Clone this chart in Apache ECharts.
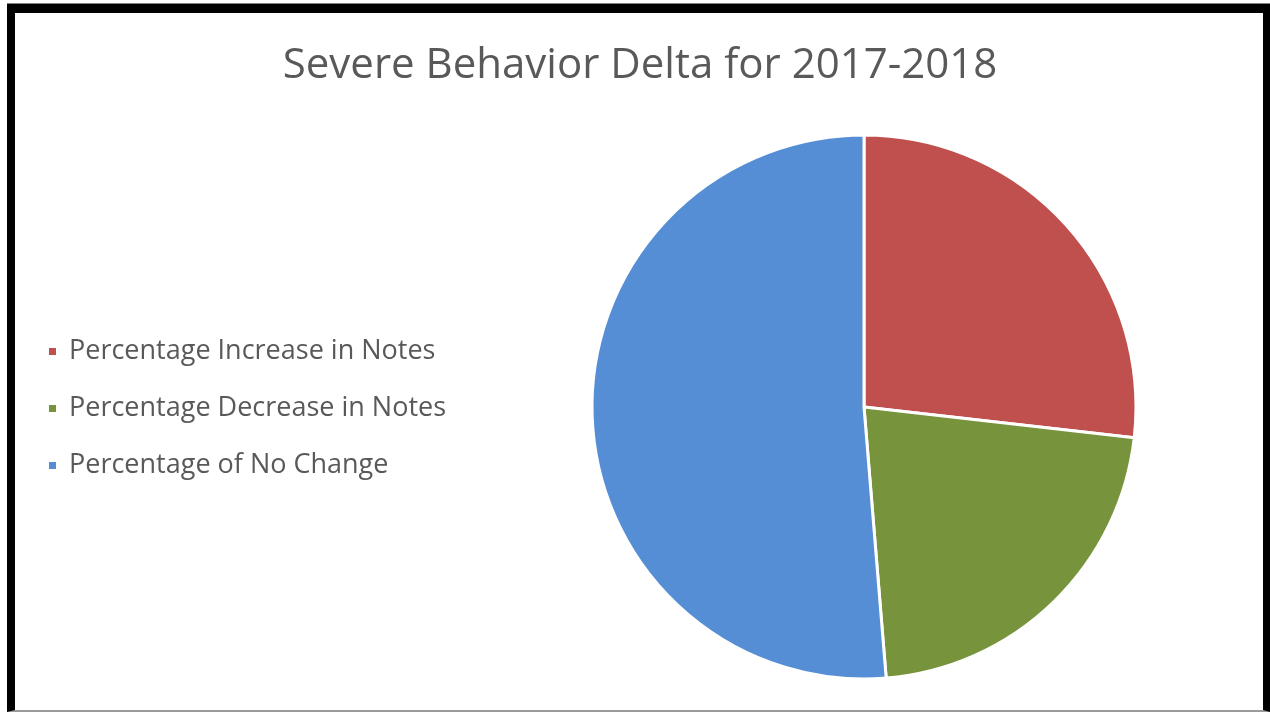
<!DOCTYPE html>
<html>
<head>
<meta charset="utf-8">
<script src="https://cdn.jsdelivr.net/npm/echarts@6/dist/echarts.min.js"></script>
<style>
  html, body { margin: 0; padding: 0; background: #ffffff; }
  #frame {
    position: absolute; left: 7px; top: 4px; width: 1248px; height: 697px;
    border-top: 9px solid #000; border-left: 8px solid #000;
    border-right: 7px solid #000; border-bottom: 2px solid #9a9a9a;
    box-shadow: 0 -1px 0 #808080;
  }
  #chart { position: absolute; left: 0; top: 0; width: 1270px; height: 712px; }
</style>
</head>
<body>
<div id="frame"></div>
<div id="chart"></div>
<script>
// Share of notes by change type, 2017 vs 2018
const categories = [
  'Percentage Increase in Notes',
  'Percentage Decrease in Notes',
  'Percentage of No Change'
];
const shares = [26.8, 21.9, 51.3];
const sliceColors = ['#C0504D', '#77933C', '#558ED5'];

const chart = echarts.init(document.getElementById('chart'), null, { renderer: 'canvas' });

chart.setOption({
  backgroundColor: 'transparent',
  animation: false,
  title: {
    text: 'Severe Behavior Delta for 2017-2018',
    left: 635,
    top: 40,
    textAlign: 'center',
    textStyle: {
      fontFamily: 'Open Sans',
      fontWeight: 'normal',
      fontSize: 42,
      color: '#595959'
    }
  },
  legend: {
    orient: 'vertical',
    left: 42,
    top: 333,
    itemWidth: 9,
    itemHeight: 9,
    itemGap: 30,
    icon: 'rect',
    data: categories,
    textStyle: {
      fontFamily: 'Open Sans',
      fontSize: 27,
      color: '#595959',
      padding: [0, 0, 0, 7]
    }
  },
  series: [{
    type: 'pie',
    center: [864, 407],
    radius: 272,
    startAngle: 90,
    clockwise: true,
    label: { show: false },
    labelLine: { show: false },
    itemStyle: { borderColor: '#ffffff', borderWidth: 3 },
    emphasis: { disabled: true },
    data: categories.map((name, i) => ({
      name: name,
      value: shares[i],
      itemStyle: { color: sliceColors[i] }
    }))
  }]
});
</script>
</body>
</html>
